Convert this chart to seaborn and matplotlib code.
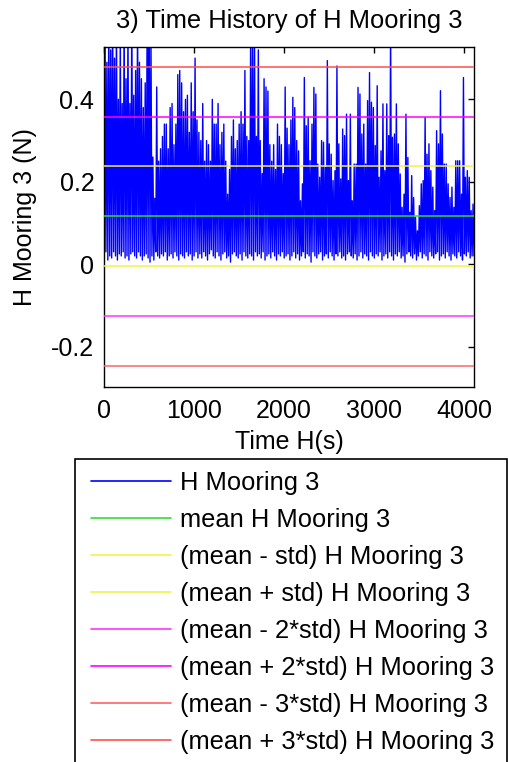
import numpy as np
import pandas as pd
import matplotlib
matplotlib.use("Agg")
import matplotlib.pyplot as plt
import matplotlib.patches as mpatches
import seaborn as sns

# ---------------- data ----------------
time_end = 4110.0  # s, last sample of the record

# successive peak values of the H Mooring 3 force (N), in time order
peaks_1 = [0.60, 0.49, 0.60, 0.52, 0.62, 0.50, 0.60, 0.40, 0.56, 0.39,
           0.60, 0.45, 0.58, 0.39, 0.62, 0.41, 0.47, 0.60, 0.49, 0.45,
           0.38, 0.44, 0.60, 0.65, 0.55, 0.26, 0.16, 0.43, 0.25, 0.28,
           0.31, 0.34, 0.34, 0.28, 0.38, 0.39, 0.29, 0.34, 0.46, 0.47,
           0.44, 0.37, 0.40, 0.41, 0.32, 0.44, 0.37, 0.50, 0.35, 0.32]
peaks_2 = [0.30, 0.39, 0.25, 0.30, 0.29, 0.25, 0.40, 0.34, 0.34, 0.39,
           0.29, 0.32, 0.34, 0.25, 0.17, 0.23, 0.31, 0.35, 0.28, 0.30,
           0.34, 0.37, 0.34, 0.47, 0.31, 0.30, 0.56, 0.54, 0.56, 0.31,
           0.52, 0.30, 0.22, 0.45, 0.43, 0.42, 0.29, 0.25, 0.29, 0.23,
           0.34, 0.31, 0.29, 0.22, 0.43, 0.33, 0.29, 0.35]
peaks_3 = [0.405, 0.38, 0.30, 0.275, 0.154, 0.195, 0.453, 0.336, 0.356, 0.251,
           0.34, 0.429, 0.413, 0.243, 0.211, 0.30, 0.296, 0.235, 0.494, 0.292,
           0.267, 0.203, 0.227, 0.481, 0.292, 0.207, 0.328, 0.312, 0.364, 0.203,
           0.364, 0.154, 0.243, 0.243, 0.429, 0.413, 0.316, 0.34, 0.243, 0.397,
           0.465, 0.393, 0.38, 0.288, 0.433, 0.211, 0.275, 0.389, 0.227]
peaks_4 = [0.389, 0.312, 0.58, 0.308, 0.316, 0.389, 0.292, 0.219, 0.138, 0.17,
           0.364, 0.259, 0.126, 0.215, 0.162, 0.114, 0.081, 0.142, 0.195, 0.203,
           0.356, 0.267, 0.292, 0.227, 0.187, 0.13, 0.324, 0.292, 0.421, 0.316,
           0.243, 0.243, 0.195, 0.162, 0.187, 0.138, 0.251, 0.251, 0.251, 0.17,
           0.453, 0.211, 0.227, 0.211, 0.13, 0.146]

# successive trough values between the peaks (N)
troughs_1 = [0.020, 0.030, 0.010, 0.020, 0.015, 0.030, 0.020, 0.010, 0.025, 0.020,
             0.030, 0.015, 0.020, 0.010, 0.025, 0.030, 0.020, 0.015, 0.030, 0.020,
             0.010, 0.020, 0.025, 0.015, 0.005, 0.020, 0.010, 0.030, 0.020, 0.015,
             0.025, 0.020, 0.030, 0.010, 0.020, 0.025, 0.015, 0.030, 0.020, 0.010,
             0.025, 0.020, 0.015, 0.030, 0.020, 0.025, 0.010, 0.020, 0.030, 0.015]
troughs_2 = [0.025, 0.015, 0.030, 0.020, 0.010, 0.025, 0.035, 0.020, 0.015, 0.030,
             0.020, 0.010, 0.025, 0.030, 0.015, 0.020, 0.005, 0.025, 0.030, 0.020,
             0.015, 0.025, 0.010, 0.030, 0.020, 0.015, 0.025, 0.020, 0.010, 0.030,
             0.020, 0.025, 0.015, 0.030, 0.010, 0.020, 0.025, 0.015, 0.030, 0.020,
             0.010, 0.025, 0.020, 0.030, 0.015, 0.020, 0.025, 0.010]
troughs_3 = [0.020, 0.030, 0.015, 0.025, 0.010, 0.020, 0.030, 0.015, 0.025, 0.020,
             0.005, 0.030, 0.020, 0.015, 0.025, 0.030, 0.010, 0.020, 0.025, 0.015,
             0.030, 0.020, 0.010, 0.025, 0.020, 0.030, 0.015, 0.020, 0.010, 0.025,
             0.030, 0.020, 0.015, 0.025, 0.010, 0.020, 0.030, 0.015, 0.025, 0.020,
             0.010, 0.030, 0.020, 0.015, 0.025, 0.020, 0.030, 0.010, 0.020]
troughs_4 = [0.025, 0.015, 0.030, 0.020, 0.010, 0.025, 0.020, 0.030, 0.015, 0.020,
             0.005, 0.025, 0.030, 0.020, 0.015, 0.025, 0.010, 0.020, 0.030, 0.015,
             0.025, 0.020, 0.010, 0.030, 0.020, 0.015, 0.025, 0.030, 0.010, 0.020,
             0.025, 0.015, 0.030, 0.020, 0.010, 0.025, 0.020, 0.015, 0.030, 0.020,
             0.010, 0.025, 0.020, 0.030, 0.015, 0.020]

# statistics lines drawn on the chart
mean_val = 0.1165
std_val = 0.1208
std_factors = [0, -1, 1, -2, 2, -3, 3]

series_label = "H Mooring 3"
stat_labels = ["mean H Mooring 3",
               "(mean - std) H Mooring 3",
               "(mean + std) H Mooring 3",
               "(mean - 2*std) H Mooring 3",
               "(mean + 2*std) H Mooring 3",
               "(mean - 3*std) H Mooring 3",
               "(mean + 3*std) H Mooring 3"]

x_ticks = [0, 1000, 2000, 3000, 4000]
y_ticks = [-0.2, 0.0, 0.2, 0.4]
y_tick_labels = ["-0.2", "0", "0.2", "0.4"]
y_limits = (-0.298, 0.527)

title_text = "3) Time History of H Mooring 3"
x_label = "Time H(s)"
y_label = "H Mooring 3 (N)"

# ---------------- styling ----------------
series_color = "#0000ff"
stat_colors = ["#33dd33", "#f2f24a", "#f2f24a", "#ff33ff", "#ff00ff", "#ff6464", "#ff5050"]

sns.set_style("white")
plt.rcParams["font.family"] = ["Liberation Sans", "DejaVu Sans"]
plt.rcParams["axes.unicode_minus"] = False

W, H = 508, 762
fig = plt.figure(figsize=(W / 100, H / 100), dpi=100)
fig.patch.set_facecolor("white")
ax = fig.add_axes([104 / W, 1 - 387 / H, (474 - 104) / W, (387 - 47) / H])

peaks = np.array(peaks_1 + peaks_2 + peaks_3 + peaks_4)
troughs = np.array(troughs_1 + troughs_2 + troughs_3 + troughs_4)
values = np.column_stack([troughs, peaks]).ravel()
values = np.append(values, troughs[-1])
time = np.linspace(0.0, time_end, len(values))
df = pd.DataFrame({"time": time, "force": values})

sns.lineplot(data=df, x="time", y="force", ax=ax, color=series_color,
             linewidth=1.0, estimator=None, sort=False, legend=False)
handles = [ax.lines[-1]]
labels = [series_label]

for k, lab, col in zip(std_factors, stat_labels, stat_colors):
    ln = ax.axhline(mean_val + k * std_val, color=col, linewidth=1.1, zorder=3)
    handles.append(ln)
    labels.append(lab)

ax.set_xlim(0, time_end)
ax.set_ylim(*y_limits)
ax.set_xticks(x_ticks)
ax.set_xticklabels([str(v) for v in x_ticks])
ax.set_yticks(y_ticks)
ax.set_yticklabels(y_tick_labels)
ax.tick_params(direction="in", top=True, right=True, length=4, width=1,
               labelsize=18, colors="black", pad=7)
ax.tick_params(axis="x", pad=9)
for sp in ax.spines.values():
    sp.set_visible(True)
    sp.set_color("black")
    sp.set_linewidth(1.0)

ax.set_title(title_text, fontsize=18.4, pad=14, color="black")
ax.set_xlabel(x_label, fontsize=18, labelpad=5, color="black")
ax.set_ylabel(y_label, fontsize=18, labelpad=10, color="black")

leg = fig.legend(handles, labels, loc="upper left",
                 bbox_to_anchor=(90.5 / W, 1 - 470.5 / H),
                 bbox_transform=fig.transFigure,
                 frameon=False, borderpad=0, borderaxespad=0,
                 handlelength=3.15, handletextpad=0.35, labelspacing=0.51,
                 fontsize=18.4)
for lh in leg.get_lines():
    lh.set_linewidth(1.2)
for t in leg.get_texts():
    t.set_color("black")

frame = mpatches.Rectangle((75 / W, -0.05), (507 - 75) / W, (1 - 459 / H) + 0.05,
                           transform=fig.transFigure, fill=False,
                           edgecolor="black", linewidth=1.2, zorder=5)
fig.patches.append(frame)

fig.savefig("out.png", dpi=100, facecolor="white")
